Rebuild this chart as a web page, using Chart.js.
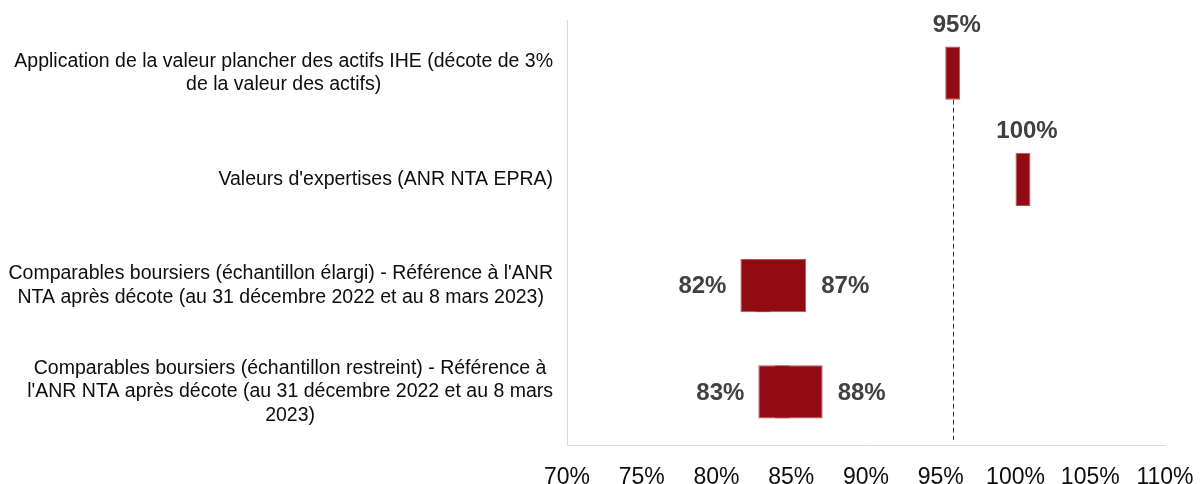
<!DOCTYPE html>
<html>
<head>
<meta charset="utf-8">
<script src="https://cdn.jsdelivr.net/npm/chart.js@4"></script>
<style>
  html, body { margin: 0; padding: 0; background: #fff; }
  #wrap { width: 1201px; height: 484px; position: relative; }
</style>
</head>
<body>
<div id="wrap"><canvas id="chart"></canvas></div>
<script>
'use strict';

// categories (one line per array entry)
const categories = [
    ["Application de la valeur plancher des actifs IHE (décote de 3%", "de la valeur des actifs)"],
    ["Valeurs d'expertises (ANR NTA EPRA)"],
    ["Comparables boursiers (échantillon élargi) - Référence à l'ANR", "NTA après décote (au 31 décembre 2022 et au 8 mars 2023)"],
    ["Comparables boursiers (échantillon restreint) - Référence à", "l'ANR NTA après décote (au 31 décembre 2022 et au 8 mars", "2023)"]
];

// floating ranges, in %
const wideRange = [null, null, [81.6, 86.0], [82.8, 87.1]];
const narrowRange = [[95.3, 96.3], [100.0, 101.0], [82.6, 83.6], [83.9, 84.9]];

// value labels around the bars
const topLabels = ["95%", "100%", null, null];
const leftLabels = [null, null, "82%", "83%"];
const rightLabels = [null, null, "87%", "88%"];

const referenceLine = 95.8;

const xMin = 70, xMax = 110, xStep = 5;

const BAR = '#930b12';
const AXIS = '#d9d9d9';
const LABEL_FONT = '"Liberation Sans", Arial, sans-serif';

const categoryLabelsPlugin = {
    id: 'categoryLabels',
    afterDraw(chart) {
        const ctx = chart.ctx;
        const yScale = chart.scales.y;
        const right = chart.chartArea.left - 14;
        const lineH = 23.5;
        ctx.save();
        ctx.font = '19.5px ' + LABEL_FONT;
        ctx.fillStyle = '#0d0d0d';
        ctx.textAlign = 'center';
        ctx.textBaseline = 'middle';
        categories.forEach((lines, i) => {
            const yc = yScale.getPixelForTick(i);
            const w = Math.max(...lines.map(l => ctx.measureText(l).width));
            const cx = right - w / 2;
            const y0 = yc - (lines.length - 1) * lineH / 2;
            lines.forEach((l, k) => ctx.fillText(l, cx, y0 + k * lineH));
        });
        ctx.restore();
    }
};

const barLabelsPlugin = {
    id: 'barLabels',
    beforeDatasetsDraw(chart) {
        // dashed reference line under the first bar
        const ctx = chart.ctx;
        const x = Math.round(chart.scales.x.getPixelForValue(referenceLine)) + 0.5;
        const first = chart.getDatasetMeta(1).data[0];
        const top = first.y + first.height / 2;
        ctx.save();
        ctx.strokeStyle = '#9b1520';
        ctx.lineWidth = 1;
        ctx.setLineDash([5, 3]);
        ctx.beginPath();
        ctx.moveTo(x, top);
        ctx.lineTo(x, chart.chartArea.bottom - 5);
        ctx.stroke();
        ctx.restore();
    },
    afterDatasetsDraw(chart) {
        const ctx = chart.ctx;
        ctx.save();
        ctx.font = 'bold 24px ' + LABEL_FONT;
        ctx.fillStyle = '#404040';
        categories.forEach((_, i) => {
            const els = [0, 1]
                .map(d => chart.getDatasetMeta(d).data[i])
                .filter((el, d) => el && [wideRange, narrowRange][d][i]);
            if (!els.length) return;
            const lo = Math.min(...els.map(e => Math.min(e.x, e.base)));
            const hi = Math.max(...els.map(e => Math.max(e.x, e.base)));
            const yc = els[0].y;
            const h = els[0].height;
            ctx.textBaseline = 'middle';
            if (leftLabels[i]) {
                ctx.textAlign = 'right';
                ctx.fillText(leftLabels[i], lo - 14, yc + 1);
            }
            if (rightLabels[i]) {
                ctx.textAlign = 'left';
                ctx.fillText(rightLabels[i], hi + 15, yc + 1);
            }
            if (topLabels[i]) {
                ctx.textAlign = 'center';
                ctx.textBaseline = 'alphabetic';
                ctx.fillText(topLabels[i], (lo + hi) / 2 + 4, yc - h / 2 - 15);
            }
        });
        ctx.restore();
    }
};

new Chart(document.getElementById('chart'), {
    type: 'bar',
    data: {
        labels: categories.map((_, i) => String(i)),
        datasets: [
            {
                data: wideRange,
                backgroundColor: BAR,
                borderColor: '#b3545a',
                borderWidth: 1,
                borderSkipped: false,
                grouped: false,
                barPercentage: 0.5,
                categoryPercentage: 1
            },
            {
                data: narrowRange,
                backgroundColor: BAR,
                borderColor: ['#b3545a', '#b3545a', BAR, '#c0666b'],
                borderWidth: 1,
                borderSkipped: false,
                grouped: false,
                barPercentage: 0.5,
                categoryPercentage: 1
            }
        ]
    },
    options: {
        indexAxis: 'y',
        responsive: true,
        maintainAspectRatio: false,
        animation: false,
        layout: { padding: { top: 20, right: 36, bottom: 0, left: 0 } },
        plugins: {
            legend: { display: false },
            tooltip: { enabled: false }
        },
        scales: {
            x: {
                min: xMin,
                max: xMax,
                grid: { display: false, drawTicks: false },
                border: { display: true, color: AXIS, width: 1 },
                ticks: {
                    stepSize: xStep,
                    color: '#0d0d0d',
                    padding: 21,
                    maxRotation: 0,
                    font: { size: 23, family: LABEL_FONT, lineHeight: 1 },
                    callback: v => v + '%'
                },
                afterFit: scale => {
                    scale.height = 39;
                    scale.paddingLeft = 0;
                    scale.paddingRight = 0;
                }
            },
            y: {
                grid: { display: false, drawTicks: false },
                border: { display: true, color: AXIS, width: 1 },
                ticks: { display: false },
                afterFit: scale => { scale.width = 567; }
            }
        }
    },
    plugins: [categoryLabelsPlugin, barLabelsPlugin]
});
</script>
</body>
</html>
